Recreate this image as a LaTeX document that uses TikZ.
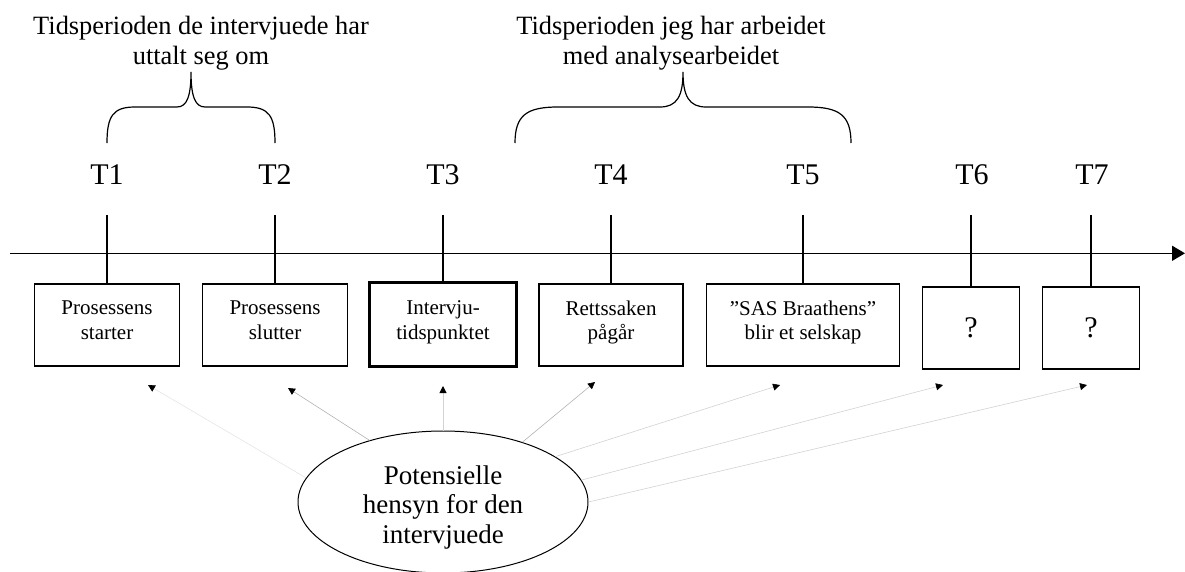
\documentclass[tikz,border=0pt]{standalone}
\usepackage{fontspec}
\setmainfont{Liberation Serif}
\usetikzlibrary{arrows.meta,shapes.geometric}
\tikzset{
  tlabel/.style={font=\fontsize{30}{34}\selectfont, inner sep=0pt},
  toptext/.style={font=\fontsize{26.4}{29.5}\selectfont, align=center, inner sep=0pt},
  evbox/.style={draw, line width=1.3pt, align=center, inner sep=0pt, text depth=9.6pt,
                minimum height=82pt, font=\fontsize{21}{24.3}\selectfont},
  qbox/.style={draw, line width=1.3pt, inner sep=0pt, minimum width=96.6pt, minimum height=82pt,
               font=\fontsize{30}{34}\selectfont},
  tickline/.style={line width=1.3pt},
  bracepath/.style={line width=1.2pt},
  infl/.style={line width=0.6pt, -{Triangle[length=7pt,width=7pt,color=black]}},
}
\begin{document}
\begin{tikzpicture}[x=1pt,y=-1pt]
\useasboundingbox (0,0) rectangle (1185,571);
% timeline
\coordinate (ax0) at (10,253.3);
\coordinate (ax1) at (1185,253.3);
\draw[line width=1.5pt,-{Triangle[length=13pt,width=15pt]}] (ax0) -- (ax1);
% top texts
\node[toptext] (p1) at (201,43) {Tidsperioden de intervjuede har\\uttalt seg om};
\node[toptext] (p2) at (671,43) {Tidsperioden jeg har arbeidet\\med analysearbeidet};
% braces
\draw[bracepath] (107,143) .. controls (107,116) and (113,107) .. (135,107) -- (177,107)
  .. controls (187,107) and (191,96) .. (191,72)
  .. controls (191,96) and (195,107) .. (205,107) -- (247,107)
  .. controls (269,107) and (275,116) .. (275,143);
\draw[bracepath] (515,143) .. controls (515,115) and (527,107) .. (558,107) -- (660,107)
  .. controls (677,107) and (683,96) .. (683,72)
  .. controls (683,96) and (689,107) .. (706,107) -- (808,107)
  .. controls (839,107) and (851,115) .. (851,143);
% time labels
\node[tlabel] (t1) at (107,175) {T1};
\node[tlabel] (t2) at (275,175) {T2};
\node[tlabel] (t3) at (443,175) {T3};
\node[tlabel] (t4) at (611,175) {T4};
\node[tlabel] (t5) at (803,175) {T5};
\node[tlabel] (t6) at (972,175) {T6};
\node[tlabel] (t7) at (1092,175) {T7};
% boxes
\node[evbox, minimum width=145pt] (b1) at (107,325) {Prosessens\\starter};
\node[evbox, minimum width=145pt] (b2) at (275,325) {Prosessens\\slutter};
\node[evbox, line width=3pt, minimum width=147pt, minimum height=84pt] (b3) at (443,324.7) {Intervju-\\tidspunktet};
\node[evbox, minimum width=144pt] (b4) at (611,325) {Rettssaken\\pågår};
\node[evbox, minimum width=192.6pt] (b5) at (803,325) {”SAS Braathens”\\blir et selskap};
\node[qbox] (b6) at (971,328) {?};
\node[qbox] (b7) at (1091,328) {?};
% ticks
\coordinate (k1) at (107,215);
\coordinate (k2) at (275,215);
\coordinate (k3) at (443,215);
\coordinate (k4) at (611,215);
\coordinate (k5) at (803,215);
\coordinate (k6) at (971,215);
\coordinate (k7) at (1091,215);
\foreach \i in {1,...,7} { \draw[tickline] (k\i) -- (b\i.north); }
% ellipse
\node[draw, ellipse, line width=1pt, minimum width=290pt, minimum height=142pt, inner sep=0pt,
      align=center, text height=82pt, text depth=0pt,
      font=\fontsize{27}{29.5}\selectfont] (e) at (443,502)
      {Potensielle\\hensyn for den\\intervjuede};
% arrow tips
\coordinate (a1) at (148,385);
\coordinate (a2) at (288,388);
\coordinate (a3) at (443,386);
\coordinate (a4) at (595,382);
\coordinate (a5) at (780,385);
\coordinate (a6) at (943,385);
\coordinate (a7) at (1087,385);
\draw[infl, gray!20] (e.170) -- (a1);
\draw[infl, gray!60] (e.140) -- (a2);
\draw[infl, gray!35, line width=1pt] (e.90) -- (a3);
\draw[infl, gray!60] (e.37) -- (a4);
\draw[infl, gray!35] (e.22.6) -- (a5);
\draw[infl, gray!35] (e.9.4) -- (a6);
\draw[infl, gray!35] (e.0) -- (a7);
\end{tikzpicture}
\end{document}
